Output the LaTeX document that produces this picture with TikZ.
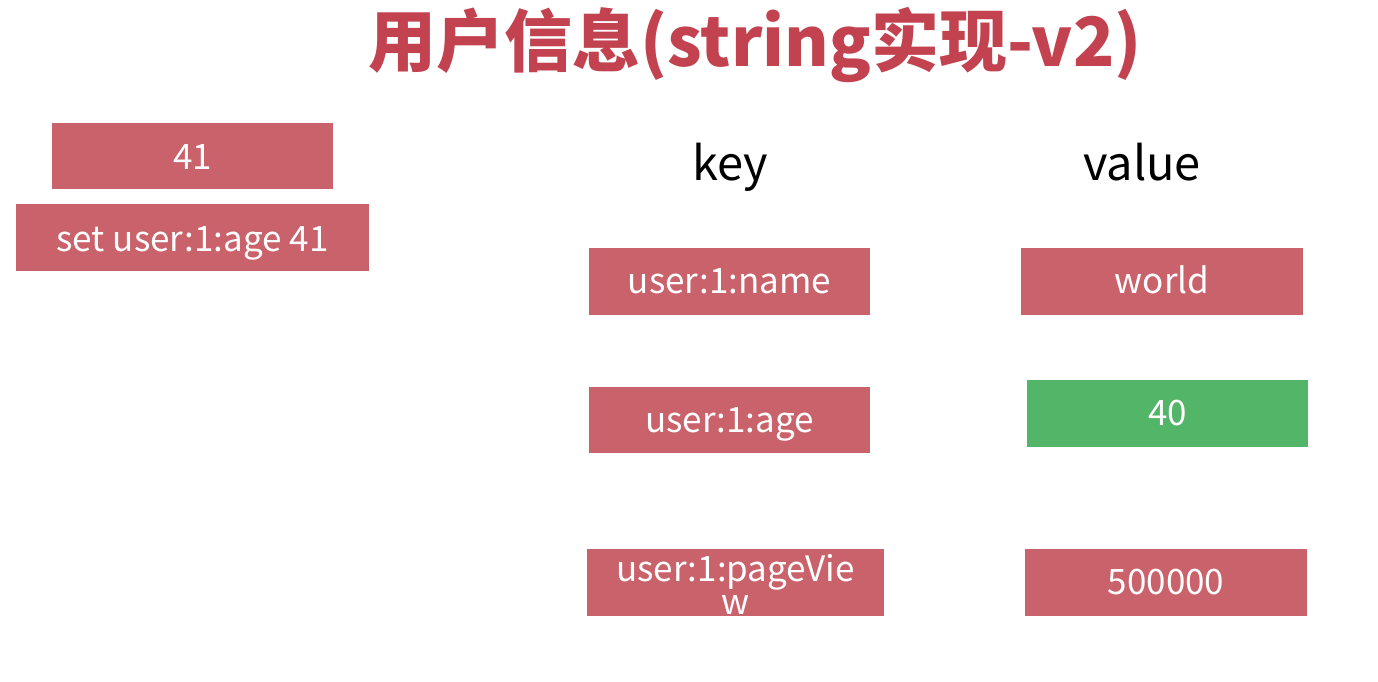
\documentclass[tikz,border=0pt]{standalone}
\usepackage{fontspec}
\setmainfont{Noto Sans CJK SC}
\newfontfamily\cjk{Noto Sans CJK SC}
\definecolor{boxred}{HTML}{C9626A}
\definecolor{boxgreen}{HTML}{52B567}
\definecolor{titlered}{HTML}{C2434F}
\tikzset{
  rbox/.style={fill=boxred, draw=none, text=white, inner sep=0pt, font=\fontsize{35}{40}\selectfont, align=center, text height=28pt, text depth=4pt},
  gbox/.style={rbox, fill=boxgreen},
  lbl/.style={text=black, inner sep=0pt, font=\fontsize{47}{52}\selectfont},
}
\begin{document}
\begin{tikzpicture}[x=1pt,y=-1pt]
\useasboundingbox[fill=white] (0,0) rectangle (1378,682);
\node[text=titlered, inner sep=0pt, font=\cjk\bfseries\fontsize{68}{74}\selectfont] (title) at (755,45) {用户信息(string实现-v2)};
\node[rbox, minimum width=281pt, minimum height=66pt, text height=30pt] (n41) at (192.5,156) {41};
\node[rbox, minimum width=353pt, minimum height=67pt, text height=31pt] (setcmd) at (192.5,237.5) {set user:1:age 41};
\node[lbl] (key) at (730,167) {key};
\node[lbl] (value) at (1142,162) {value};
\node[rbox, minimum width=281pt, minimum height=67pt] (kname) at (729.5,281.5) {user:1:name};
\node[rbox, minimum width=282pt, minimum height=67pt] (vworld) at (1162,281.5) {world};
\node[rbox, minimum width=281pt, minimum height=66pt] (kage) at (729.5,420) {user:1:age};
\node[gbox, minimum width=281pt, minimum height=67pt] (vage) at (1167.5,413.5) {40};
\node[rbox, minimum width=297pt, minimum height=67pt, text height=, text depth=] (kpv) at (735.5,582.5) {};
\node[text=white, inner sep=0pt, align=center, font=\fontsize{35}{33}\selectfont] (kpvtext) at (kpv.center) [yshift=-1.5pt] {user:1:pageVie\\w};
\node[rbox, minimum width=282pt, minimum height=67pt] (vpv) at (1166,582.5) {500000};
\end{tikzpicture}
\end{document}
